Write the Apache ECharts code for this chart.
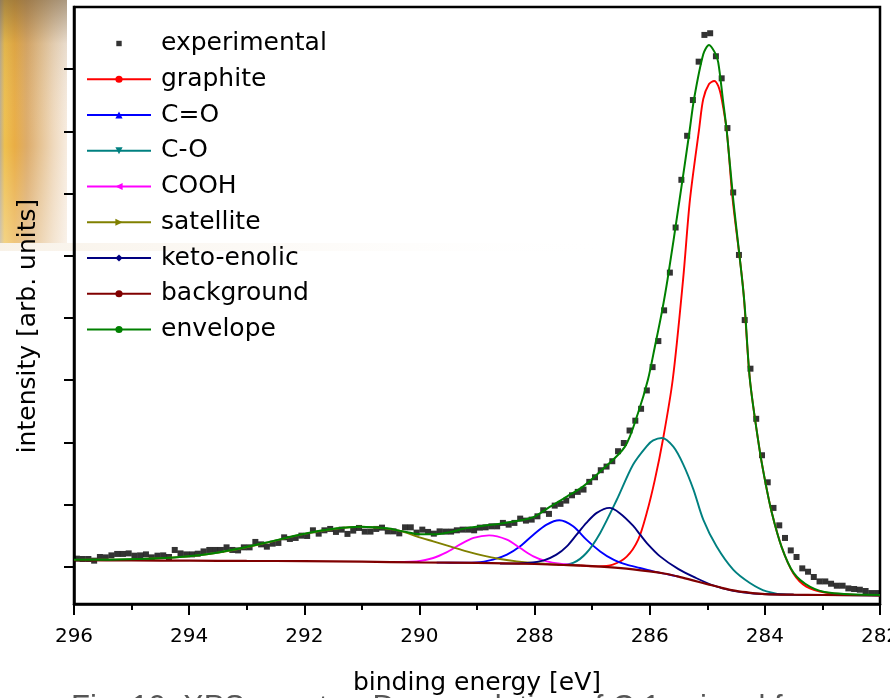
<!DOCTYPE html>
<html>
<head>
<meta charset="utf-8">
<script src="https://cdn.jsdelivr.net/npm/echarts@6/dist/echarts.min.js"></script>
<style>
  html, body { margin: 0; padding: 0; background: #fff; }
  #chart { width: 890px; height: 698px; }
</style>
</head>
<body>
<div id="chart"></div>
<script>
// binding energy ticks (eV)
const xMin = 282;
const xMax = 296;
const yTicks = [0, 10, 20, 30, 40, 50, 60, 70, 80];

// measured points
const expEnergy = [
  295.95, 295.85, 295.75, 295.65, 295.55, 295.45, 295.35, 295.25, 295.15, 295.05,
  294.95, 294.85, 294.75, 294.65, 294.55, 294.45, 294.35, 294.25, 294.15, 294.05,
  293.95, 293.85, 293.75, 293.65, 293.55, 293.45, 293.35, 293.25, 293.15, 293.05,
  292.95, 292.85, 292.75, 292.65, 292.55, 292.45, 292.35, 292.25, 292.15, 292.05,
  291.95, 291.85, 291.75, 291.65, 291.55, 291.45, 291.35, 291.25, 291.15, 291.05,
  290.95, 290.85, 290.75, 290.65, 290.55, 290.45, 290.35, 290.25, 290.15, 290.05,
  289.95, 289.85, 289.75, 289.65, 289.55, 289.45, 289.35, 289.25, 289.15, 289.05,
  288.95, 288.85, 288.75, 288.65, 288.55, 288.45, 288.35, 288.25, 288.15, 288.05,
  287.95, 287.85, 287.75, 287.65, 287.55, 287.45, 287.35, 287.25, 287.15, 287.05,
  286.95, 286.85, 286.75, 286.65, 286.55, 286.45, 286.35, 286.25, 286.15, 286.05,
  285.95, 285.85, 285.75, 285.65, 285.55, 285.45, 285.35, 285.25, 285.15, 285.05,
  284.95, 284.85, 284.75, 284.65, 284.55, 284.45, 284.35, 284.25, 284.15, 284.05,
  283.95, 283.85, 283.75, 283.65, 283.55, 283.45, 283.35, 283.25, 283.15, 283.05,
  282.95, 282.85, 282.75, 282.65, 282.55, 282.45, 282.35, 282.25, 282.15, 282.05
];
const expIntensity = [
  1.29, 1.24, 1.24, 0.97, 1.56, 1.50, 1.82, 2.05, 2.05, 2.14,
  1.77, 1.82, 1.98, 1.50, 1.77, 1.82, 1.56, 2.69, 2.14, 1.98,
  1.98, 2.09, 2.46, 2.69, 2.69, 2.69, 3.11, 2.69, 2.62, 3.11,
  3.11, 3.98, 3.59, 3.22, 3.70, 3.82, 4.72, 4.46, 4.62, 4.99,
  4.94, 5.85, 5.31, 5.85, 6.07, 5.59, 5.96, 5.27, 5.80, 6.23,
  5.64, 5.64, 6.07, 6.28, 5.68, 5.68, 5.36, 6.33, 6.33, 5.48,
  5.96, 5.59, 5.31, 5.68, 5.64, 5.64, 5.85, 5.96, 5.96, 5.85,
  6.28, 6.33, 6.49, 6.49, 7.04, 6.76, 7.04, 7.73, 7.41, 7.57,
  8.10, 9.07, 8.49, 9.82, 10.10, 10.63, 11.48, 12.03, 12.40, 13.64,
  14.38, 15.51, 16.10, 16.96, 18.57, 19.89, 21.90, 23.48, 25.39, 28.34,
  32.09, 36.28, 41.22, 47.29, 54.54, 62.21, 69.29, 75.04, 81.21, 85.51,
  85.78, 82.08, 78.53, 70.53, 60.18, 50.13, 39.66, 31.84, 23.78, 17.92,
  13.57, 9.45, 6.65, 4.62, 2.62, 1.56, -0.27, -0.81, -1.66, -2.37,
  -2.37, -2.74, -3.06, -3.06, -3.49, -3.59, -3.70, -3.91, -4.24, -4.24
];

// fitted components (energy / intensity)
const graphiteE = [287.2, 286.9, 286.64, 286.4, 286.2, 286.05, 285.91, 285.77, 285.6, 285.42, 285.3, 285.14, 285.07, 284.97, 284.88, 284.81, 284.75, 284.66, 284.56, 284.38, 284.26, 284.1, 284.0, 283.88, 283.71, 283.51, 283.28, 282.93, 282.5, 282];
const graphiteI = [0.2, 0.05, 0.32, 1.61, 4.35, 8.7, 14.0, 20.45, 30.1, 46.2, 59.1, 70.5, 75.2, 77.6, 78.1, 77.3, 75.2, 69.9, 59.1, 45.0, 30.1, 19.3, 14.0, 8.7, 3.2, -1.0, -3.2, -4.2, -4.5, -4.6];

const coE = [289.7, 289.47, 289.01, 288.72, 288.48, 288.25, 288.02, 287.79, 287.57, 287.33, 287.1, 286.86, 286.63, 286.4, 286.17, 285.94, 285.7, 285.5];
const coI = [0.66, 0.64, 0.69, 1.13, 1.93, 3.27, 5.15, 6.76, 7.46, 6.49, 4.35, 2.46, 1.13, 0.32, -0.21, -0.76, -1.2, -1.6];

const cOE = [287.6, 287.33, 287.1, 286.86, 286.57, 286.29, 286.05, 285.94, 285.79, 285.59, 285.42, 285.24, 285.07, 284.84, 284.55, 284.26, 283.97, 283.62, 283.0, 282];
const cOI = [0.25, 0.6, 2.2, 5.43, 10.8, 16.4, 19.4, 20.3, 20.7, 19.3, 16.5, 12.4, 7.57, 3.27, -0.48, -2.62, -3.98, -4.5, -4.55, -4.6];

const coohE = [290.6, 290.05, 289.76, 289.53, 289.3, 289.06, 288.79, 288.48, 288.25, 288.02, 287.79, 287.56, 287.21];
const coohI = [0.75, 0.85, 1.4, 2.3, 3.54, 4.62, 5.04, 4.35, 3.0, 1.66, 0.85, 0.48, 0.2];

const satE = [296, 295.49, 294.9, 294.33, 293.76, 293.17, 292.59, 292.02, 291.43, 291.03, 290.56, 290.29, 290.05, 289.76, 289.47, 289.18, 288.89, 288.6, 288.31, 288.02, 287.56, 287.2];
const satI = [1.1, 1.12, 1.22, 1.43, 1.9, 2.8, 4.0, 5.24, 6.14, 6.42, 6.12, 5.66, 4.88, 4.07, 3.27, 2.46, 1.77, 1.24, 0.85, 0.6, 0.32, 0.2];

const ketoE = [288.6, 288.43, 288.14, 287.85, 287.62, 287.44, 287.27, 287.1, 286.92, 286.7, 286.52, 286.29, 286.17, 286.05, 285.82, 285.5, 285.2, 284.9, 284.55, 284.2, 283.5, 282];
const ketoI = [0.5, 0.5, 0.6, 0.97, 1.93, 3.27, 5.15, 7.04, 8.65, 9.45, 8.6, 6.6, 5.2, 3.8, 1.66, -0.4, -1.8, -3.0, -3.9, -4.3, -4.5, -4.6];

const bgE = [296, 295, 294, 293, 292, 291, 290, 289, 288.5, 288, 287.5, 287, 286.5, 286, 285.75, 285.5, 285.25, 285, 284.75, 284.5, 284.25, 284, 283.5, 283, 282];
const bgI = [1.05, 1.0, 0.97, 0.93, 0.89, 0.8, 0.69, 0.6, 0.52, 0.43, 0.27, 0.08, -0.24, -0.76, -1.1, -1.6, -2.2, -2.8, -3.4, -3.9, -4.2, -4.4, -4.5, -4.55, -4.6];

const envE = [296, 295.49, 294.9, 294.33, 293.76, 293.17, 292.59, 292.02, 291.43, 291.03, 290.56, 290.29, 289.99, 289.69, 289.47, 289.18, 288.89, 288.6, 288.31, 288.02, 287.73, 287.44, 287.16, 286.86, 286.43, 286.2, 286.03, 285.91, 285.79, 285.69, 285.48, 285.31, 285.23, 285.07, 284.97, 284.87, 284.81, 284.73, 284.66, 284.55, 284.36, 284.26, 284.1, 284.0, 283.88, 283.71, 283.5, 283.22, 282.87, 282];
const envI = [1.13, 1.13, 1.24, 1.45, 1.93, 2.85, 4.03, 5.27, 6.17, 6.44, 6.17, 5.68, 5.23, 5.23, 5.56, 6.2, 6.6, 6.92, 7.33, 7.97, 9.66, 11.27, 12.88, 15.3, 19.3, 24.8, 30.1, 35.4, 40.9, 46.2, 59.1, 69.9, 75.2, 82.4, 83.9, 82.7, 81.1, 75.2, 69.9, 59.1, 43.0, 30.1, 19.3, 14.0, 8.7, 3.2, -1.0, -3.2, -4.2, -4.56];

const zip = (xs, ys) => xs.map((x, i) => [x, ys[i]]);

const font = 'DejaVu Sans';

const fitLine = (name, color, xs, ys, symbol, rotate, width) => ({
  name: name,
  type: 'line',
  data: zip(xs, ys),
  showSymbol: false,
  symbol: symbol,
  symbolRotate: rotate || 0,
  smooth: 0.3,
  lineStyle: { color: color, width: width || 1.9 },
  itemStyle: { color: color },
  emphasis: { disabled: true }
});

const chart = echarts.init(document.getElementById('chart'), null, { renderer: 'canvas' });

chart.setOption({
  animation: false,
  backgroundColor: '#ffffff',
  grid: {
    left: 74,
    right: 10,
    top: 7,
    bottom: 94,
    outerBoundsMode: 'none',
    containLabel: false,
    show: true,
    borderColor: '#000',
    borderWidth: 2.5,
    backgroundColor: 'transparent'
  },
  legend: {
    orient: 'vertical',
    left: 86,
    top: 31,
    padding: 0,
    itemWidth: 64,
    itemHeight: 9,
    itemGap: 10.75,
    textStyle: {
      fontFamily: font,
      fontSize: 25,
      color: '#000',
      padding: [0, 0, 0, 5]
    },
    data: [
      { name: 'experimental', icon: 'path://M-2 -2M0 0H6V6H0ZM8 8' },
      'graphite', 'C=O', 'C-O', 'COOH', 'satellite', 'keto-enolic', 'background', 'envelope'
    ]
  },
  xAxis: {
    type: 'value',
    min: xMin,
    max: xMax,
    interval: 2,
    inverse: true,
    name: 'binding energy [eV]',
    nameLocation: 'middle',
    nameGap: 67,
    nameTextStyle: { fontFamily: font, fontSize: 25, color: '#000' },
    axisLine: { onZero: false, lineStyle: { color: '#000', width: 2.5 } },
    axisTick: { length: 11, lineStyle: { color: '#000', width: 2 } },
    minorTick: { show: true, splitNumber: 2, length: 6, lineStyle: { color: '#000', width: 2 } },
    axisLabel: { fontFamily: font, fontSize: 20, color: '#000', margin: 23, hideOverlap: false },
    splitLine: { show: false }
  },
  yAxis: {
    type: 'value',
    min: -6,
    max: 90,
    axisLine: { show: true, onZero: false, lineStyle: { color: '#000', width: 2.5 } },
    axisTick: {
      show: true,
      length: 10,
      customValues: yTicks,
      lineStyle: { color: '#000', width: 2 }
    },
    axisLabel: { show: false },
    splitLine: { show: false }
  },
  graphic: [
    {
      type: 'rect',
      z: -10,
      silent: true,
      shape: { x: 0, y: 0, width: 67, height: 243 },
      style: {
        fill: new echarts.graphic.LinearGradient(0, 0, 1, 0, [
          { offset: 0, color: '#bcae92' },
          { offset: 0.07, color: '#eec04e' },
          { offset: 0.22, color: '#e9ad45' },
          { offset: 0.4, color: '#ddac6a' },
          { offset: 0.6, color: '#e6c393' },
          { offset: 0.8, color: '#efd9bd' },
          { offset: 1, color: '#f7ece0' }
        ])
      }
    },
    {
      type: 'rect',
      z: -9,
      silent: true,
      shape: { x: 0, y: 0, width: 67, height: 243 },
      style: {
        fill: new echarts.graphic.LinearGradient(0, 0, 0, 1, [
          { offset: 0, color: 'rgba(110,85,50,0.55)' },
          { offset: 0.18, color: 'rgba(110,85,50,0.1)' },
          { offset: 0.6, color: 'rgba(255,255,255,0)' },
          { offset: 1, color: 'rgba(255,255,255,0.3)' }
        ])
      }
    },
    {
      type: 'rect',
      z: -10,
      silent: true,
      shape: { x: 0, y: 243, width: 620, height: 8 },
      style: {
        fill: new echarts.graphic.LinearGradient(0, 0, 1, 0, [
          { offset: 0, color: 'rgba(240,226,204,0.45)' },
          { offset: 0.5, color: 'rgba(244,234,220,0.2)' },
          { offset: 1, color: 'rgba(255,255,255,0)' }
        ])
      }
    },
    {
      type: 'text',
      silent: true,
      x: 28,
      y: 326,
      rotation: Math.PI / 2,
      style: {
        text: 'intensity [arb. units]',
        fontFamily: font,
        fontSize: 25,
        fill: '#000',
        align: 'center',
        verticalAlign: 'middle'
      }
    },
    {
      type: 'text',
      silent: true,
      left: 71,
      top: 693,
      style: {
        text: 'Fig. 10. XPS spectra. Deconvolution of C 1s signal for',
        fontFamily: 'Liberation Sans',
        fontSize: 31,
        fill: '#555'
      }
    }
  ],
  series: [
    fitLine('graphite', '#ff0000', graphiteE, graphiteI, 'circle', 0),
    fitLine('C=O', '#0000ff', coE, coI, 'triangle', 0),
    fitLine('C-O', '#008080', cOE, cOI, 'triangle', 180),
    fitLine('COOH', '#ff00ff', coohE, coohI, 'triangle', 90),
    fitLine('satellite', '#808000', satE, satI, 'triangle', -90),
    fitLine('keto-enolic', '#000080', ketoE, ketoI, 'diamond', 0),
    fitLine('background', '#800000', bgE, bgI, 'circle', 0, 2.2),
    fitLine('envelope', '#008000', envE, envI, 'circle', 0, 2),
    {
      name: 'experimental',
      type: 'scatter',
      data: zip(expEnergy, expIntensity),
      symbol: 'rect',
      symbolSize: 6,
      itemStyle: { color: '#000' },
      emphasis: { disabled: true }
    }
  ]
});
</script>
</body>
</html>
